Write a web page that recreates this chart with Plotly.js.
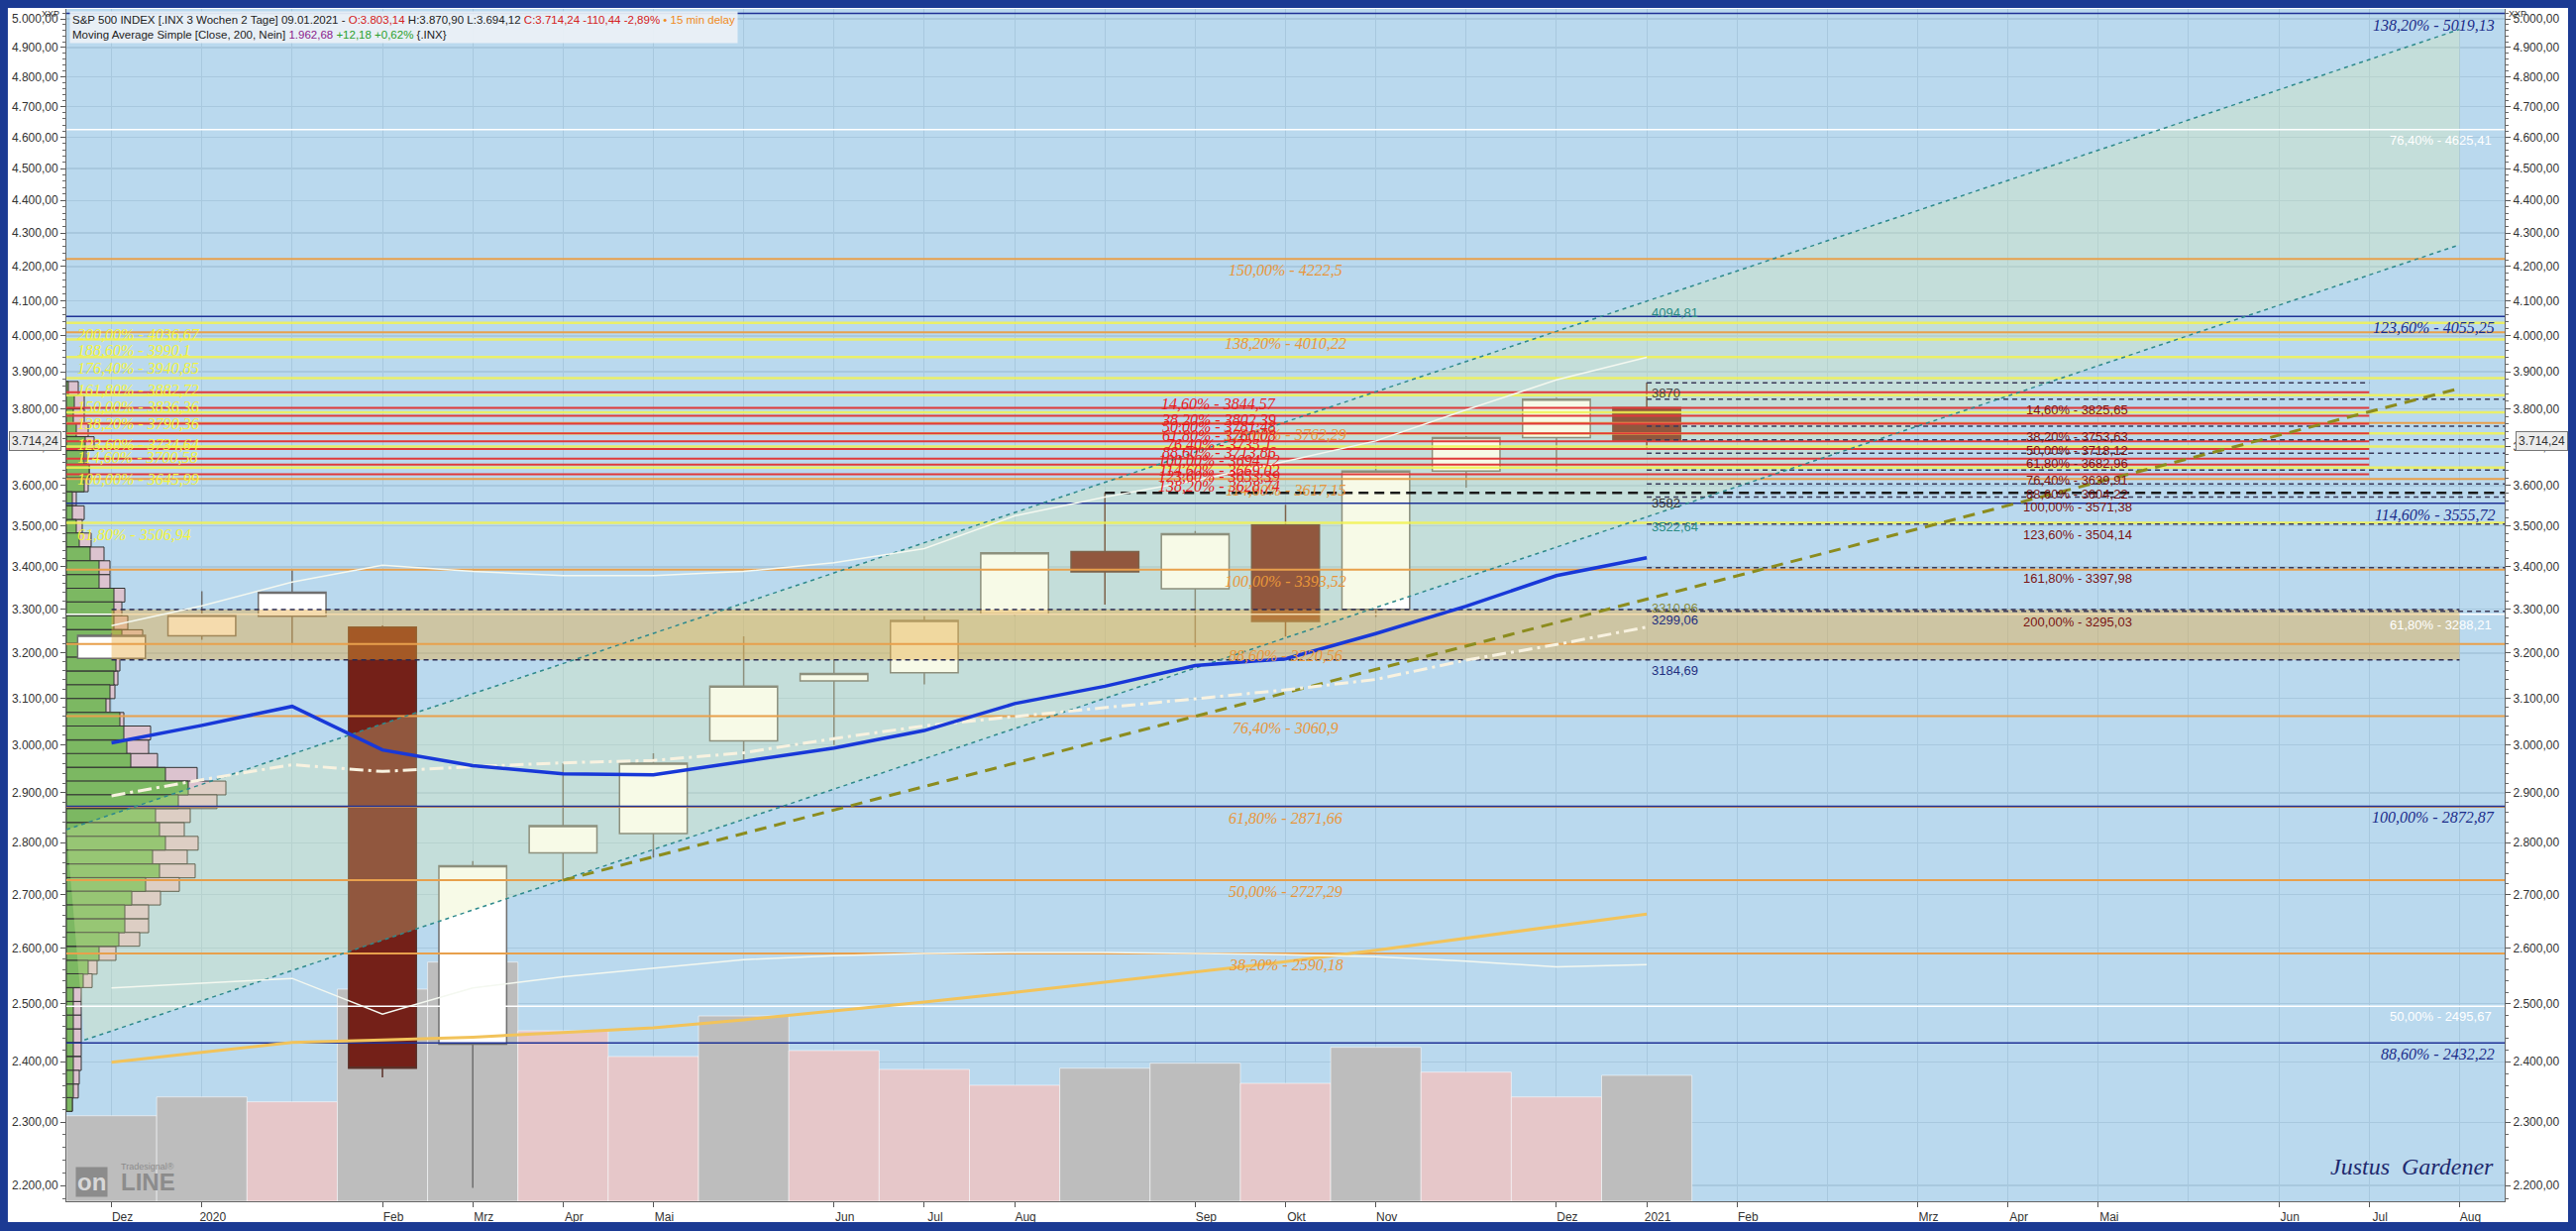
<!DOCTYPE html>
<html><head><meta charset="utf-8">
<script src="https://cdn.plot.ly/plotly-3.0.1.min.js"></script>
<style>html,body{margin:0;padding:0;background:#fff;}#chart{width:2600px;height:1242px;}</style>
</head><body><div id="chart"></div>
<script>
// ---------------- DATA ----------------
const barIdx = [0,1,2,3,4,5,6,7,8,9,10,11,12,13,14,15,16,17];
const openP  = [3188,3239,3284,3259,2430,2780,2818,3008,3138,3156,3289,3437,3348,3502,3300,3637,3724,3803.14];
const highP  = [3245,3342,3395,3262,2764,2961,2982,3238,3185,3284,3436,3582,3487,3552,3650,3728,3830,3870.90];
const lowP   = [3185,3230,3219,2374,2196,2726,2771,2967,2999,3130,3285,3311,3213,3237,3282,3595,3636,3694.12];
const closeP = [3240,3286,3340,2389,2755,2834,2961,3126,3154,3274,3434,3388,3480,3272,3637,3724,3826,3714.24];
const volume = [7.17,8.75,8.34,17.79,20.06,14.3,12.14,15.54,12.64,11.06,9.73,11.16,11.58,9.89,12.91,10.83,8.75,10.56];

const maBlue     = [3004,3041,3082,2989,2956,2939,2937,2965,2993,3030,3088,3126,3172,3187,3244,3307,3379,3422];
const maGold     = [2399,2416,2433,2437,2442,2450,2458,2472,2487,2503,2520,2538,2556,2575,2596,2618,2640,2663];
const bandUpperW = [3262,3308,3364,3404,3389,3379,3379,3389,3410,3444,3524,3571,3613,3662,3715,3797,3878,3940];
const bandLowerW = [2528,2536,2545,2482,2528,2548,2563,2579,2586,2590,2592,2592,2590,2588,2584,2576,2566,2570];
const dashDotLine= [2894,2927,2958,2944,2954,2962,2967,2983,3013,3040,3060,3079,3098,3118,3141,3184,3219,3259];

// volume profile (price rows, up-volume, total volume)
const profilePrice = [3855,3818,3781,3744,3708,3672,3637,3602,3567,3532,3498,3465,3431,3398,3365,3333,3301,3269,3237,3206,3175,3144,3114,3084,3054,3025,2995,2967,2938,2910,2882,2854,2826,2799,2772,2745,2719,2693,2667,2641,2616,2590,2565,2541,2516,2492,2468,2444,2421,2397,2374,2351,2329];
const profileUp    = [2,8,7,10,19,18,23,18,6,6,10,13,24,33,33,48,48,48,56,60,50,48,44,40,54,58,61,65,100,123,113,90,94,100,87,94,80,66,59,59,53,33,22,17,7,7,7,7,7,7,7,7,6];
const profileTotal = [12,18,18,22,28,20,23,22,10,18,16,25,38,44,44,59,56,62,77,72,54,52,49,44,58,85,83,92,132,161,152,125,119,133,122,130,114,95,83,83,74,50,31,26,15,15,15,15,15,15,13,12,6];

// Fibonacci level sets
const navyLevels  = [5019.13,4055.25,3555.72,2872.87,2432.22];
const navyLabels  = ["138,20% - 5019,13","123,60% - 4055,25","114,60% - 3555,72","100,00% - 2872,87","88,60% - 2432,22"];
const orangeLevels= [4222.5,4010.22,3762.29,3617.15,3393.52,3220.56,3060.9,2871.66,2727.29,2590.18];
const orangeLabels= ["150,00% - 4222,5","138,20% - 4010,22","123,60% - 3762,29","114,60% - 3617,15","100,00% - 3393,52","88,60% - 3220,56","76,40% - 3060,9","61,80% - 2871,66","50,00% - 2727,29","38,20% - 2590,18"];
const yellowLevels= [4036.67,3990.1,3940.85,3882.72,3836.36,3790.36,3734.64,3700.58,3645.99,3506.94];
const yellowLabels= ["200,00% - 4036,67","188,60% - 3990,1","176,40% - 3940,85","161,80% - 3882,72","150,00% - 3836,36","138,20% - 3790,36","123,60% - 3734,64","114,60% - 3700,58","100,00% - 3645,99","61,80% - 3506,94"];
const redLevels   = [3844.57,3802.39,3781.48,3760.08,3735.1,3713.86,3694.12,3669.02,3653.39,3628.74];
const redLabels   = ["14,60% - 3844,57","38,20% - 3802,39","50,00% - 3781,48","61,80% - 3760,08","76,40% - 3735,1","88,60% - 3713,86","100,00% - 3694,12","114,60% - 3669,02","123,60% - 3653,39","138,20% - 3628,74"];
const darkLevels  = [3825.65,3753.63,3718.12,3682.96,3639.91,3604.22,3571.38,3504.14,3397.98,3295.03];
const darkLabels  = ["14,60% - 3825,65","38,20% - 3753,63","50,00% - 3718,12","61,80% - 3682,96","76,40% - 3639,91","88,60% - 3604,22","100,00% - 3571,38","123,60% - 3504,14","161,80% - 3397,98","200,00% - 3295,03"];
const whiteLevels = [4625.41,3288.21,2495.67];
const whiteLabels = ["76,40% - 4625,41","61,80% - 3288,21","50,00% - 2495,67"];
const swingHigh = 3870, keyLevel = 3582;
const bandLow = 3184.69, bandHigh = 3299.06;
const channelUpperX = [-0.5, 26], channelUpperY = [2826, 4963];
const channelLowerX = [-0.3, 26], channelLowerY = [2437, 4265];
const trendX = [5, 26], trendY = [2727, 3855];
const pointLabels = [
  {v:4094.81, t:"4094,81", c:"#2B8C84", s:10},
  {v:3870,    t:"3870",    c:"#444444", s:10},
  {v:3582,    t:"3582",    c:"#333333", s:10},
  {v:3522.64, t:"3522,64", c:"#2B8C84", s:10},
  {v:3310.96, t:"3310,96", c:"#8C8C3C", s:4},
  {v:3299.06, t:"3299,06", c:"#1F2F7F", s:10},
  {v:3184.69, t:"3184,69", c:"#1F2F7F", s:11}
];
const lastPrice = 3714.24;

const xTickVals = [0,1,3,4,5,6,8,9,10,12,13,14,16,17,18,20,21,22,24,25,26];
const xTickText = ["Dez","2020","Feb","Mrz","Apr","Mai","Jun","Jul","Aug","Sep","Okt","Nov","Dez","2021","Feb","Mrz","Apr","Mai","Jun","Jul","Aug"];
const yTickVals = [2200,2300,2400,2500,2600,2700,2800,2900,3000,3100,3200,3300,3400,3500,3600,3700,3800,3900,4000,4100,4200,4300,4400,4500,4600,4700,4800,4900,5000];

// ---------------- STYLE ----------------
const Y_LO = 2175.6, Y_HI = 5035;
const X_L = -0.5, X_R = 26.5;
const PX_PER_BAR = 91.15;
const SERIF = "'Liberation Serif','Times New Roman',serif";
const NARROW = "'Liberation Sans Narrow','Arial Narrow','Liberation Sans',Arial,sans-serif";
const SANS = "'Liberation Sans',Arial,sans-serif";
const GRID = '#A8C8DE';
const lg = Math.log10;
const fmtDE = n => { const p = n.toFixed(2).split('.'); return p[0].replace(/\B(?=(\d{3})+(?!\d))/g,'.') + ',' + p[1]; };

const minorY = [];
for (let v = 2180; v <= 5020; v += 20) if (v % 100 !== 0) minorY.push(v);

function levelTrace(levels, x0, x1, color, width, dash) {
  const x = [], y = [];
  levels.forEach(v => { x.push(x0, x1, null); y.push(v, v, null); });
  return {type:'scatter', mode:'lines', xaxis:'x', yaxis:'y3', x, y,
          line:{color, width, dash: dash || 'solid'}, hoverinfo:'skip', connectgaps:false};
}
function lineTrace(x, y, color, width, dash) {
  return {type:'scatter', mode:'lines', xaxis:'x', yaxis:'y3', x, y,
          line:{color, width, dash: dash || 'solid'}, hoverinfo:'skip'};
}

const volColors = volume.map((v,i) => (i === 0 || v >= volume[i-1]) ? '#BDBDBD' : '#E6C7C9');

const traces = [
  {type:'bar', x:barIdx, y:volume, xaxis:'x', yaxis:'y', width:1,
   marker:{color:volColors, line:{color:'rgba(255,255,255,0.55)', width:1}}, hoverinfo:'skip'},
  {type:'bar', orientation:'h', xaxis:'x', yaxis:'y2', y:profilePrice.map(lg),
   x:profileTotal.map(v => v / PX_PER_BAR), base:X_L, width:0.00421,
   marker:{color:'#DCC3CF', line:{color:'#333333', width:1}}, hoverinfo:'skip'},
  {type:'bar', orientation:'h', xaxis:'x', yaxis:'y2', y:profilePrice.map(lg),
   x:profileUp.map(v => v / PX_PER_BAR), base:X_L, width:0.00421,
   marker:{color:'#7CB862', line:{color:'#333333', width:1}}, hoverinfo:'skip'},
  {type:'candlestick', xaxis:'x', yaxis:'y3', x:barIdx, open:openP, high:highP, low:lowP, close:closeP,
   increasing:{line:{color:'#6E6E6E', width:1.5}, fillcolor:'#FFFFFF'},
   decreasing:{line:{color:'#5A3028', width:1.5}, fillcolor:'#742018'},
   whiskerwidth:0, hoverinfo:'skip'},
  {type:'scatter', mode:'lines', xaxis:'x', yaxis:'y3',
   x:[channelUpperX[0], channelUpperX[1], channelLowerX[1], channelLowerX[0]],
   y:[channelUpperY[0], channelUpperY[1], channelLowerY[1], channelLowerY[0]],
   fill:'toself', fillcolor:'rgba(225,238,165,0.27)', line:{width:0}, hoverinfo:'skip'},
  levelTrace(whiteLevels, X_L, X_R, '#FFFFFF', 1.5),
  {type:'scatter', mode:'lines', xaxis:'x', yaxis:'y3',
   x:[0, 26, 26, 0], y:[bandLow, bandLow, bandHigh, bandHigh],
   fill:'toself', fillcolor:'rgba(230,170,60,0.42)', line:{width:0}, hoverinfo:'skip'},
  levelTrace([bandHigh, bandLow], 0, 26, '#2A2A50', 1.5, '5px,4px'),
  levelTrace(orangeLevels, X_L, X_R, '#E8A04C', 2),
  levelTrace(yellowLevels, X_L, X_R, 'rgba(242,242,80,0.85)', 2.5),
  levelTrace(redLevels, X_L, 25, '#E03A3A', 2),
  levelTrace(navyLevels, X_L, X_R, '#1F3296', 1.5),
  levelTrace(darkLevels, 17, X_R, '#3A3A58', 1.5, '5px,4px'),
  levelTrace([swingHigh], 17, 25, '#3A3A58', 1.5, '5px,4px'),
  levelTrace([keyLevel], 11, X_R, '#1A1A1A', 2.5, '10px,6px'),
  lineTrace(channelUpperX, channelUpperY, '#2E8A8C', 1.5, '4px,4px'),
  lineTrace(channelLowerX, channelLowerY, '#2E8A8C', 1.5, '4px,4px'),
  lineTrace(trendX, trendY, '#8C8C1E', 3, '12px,8px'),
  lineTrace(barIdx, maGold, '#F2C35A', 3),
  lineTrace(barIdx, bandUpperW, '#F4F8F0', 1.5),
  lineTrace(barIdx, bandLowerW, '#F4F8F0', 1.5),
  lineTrace(barIdx, dashDotLine, '#F8F2E0', 3, '14px,5px,3px,5px'),
  lineTrace(barIdx, maBlue, '#1838D8', 3.5),
  {type:'scatter', mode:'markers', xaxis:'x', yaxis:'y4', x:[0], y:[3000], marker:{opacity:0}, hoverinfo:'skip'}
];

// ---------------- ANNOTATIONS ----------------
const ann = [];
function addLabels(levels, texts, base) {
  levels.forEach((v, i) => ann.push(Object.assign({
    yref:'y3', y:lg(v), text:texts[i], showarrow:false, yanchor:'top', yshift:-1
  }, JSON.parse(JSON.stringify(base)))));
}
addLabels(navyLevels, navyLabels.map(t => '<i>' + t + '</i>'),
  {xref:'paper', x:0.9968, xanchor:'right', font:{family:SERIF, size:16, color:'#1B2C8A'}});
addLabels(orangeLevels, orangeLabels.map(t => '<i>' + t + '</i>'),
  {xref:'x', x:13, xanchor:'center', font:{family:SERIF, size:16, color:'#E8963A'}});
addLabels(yellowLevels, yellowLabels.map(t => '<i>' + t + '</i>'),
  {xref:'paper', x:0.0037, xanchor:'left', font:{family:SERIF, size:16, color:'#F4F43C'}});
addLabels(redLevels, redLabels.map(t => '<i>' + t + '</i>'),
  {xref:'x', x:12.26, xanchor:'center', font:{family:SERIF, size:16, color:'#E81C1C'}});
addLabels(darkLevels, darkLabels,
  {xref:'x', x:21.77, xanchor:'center', font:{family:NARROW, size:13, color:'#7A1414'}});
addLabels(whiteLevels, whiteLabels,
  {xref:'paper', x:0.9955, xanchor:'right', font:{family:NARROW, size:13, color:'#FFFFFF'}});
pointLabels.forEach(p => ann.push({xref:'x', x:17.03, xanchor:'left', yref:'y3', y:lg(p.v),
  yanchor:'middle', yshift:-p.s, text:p.t, showarrow:false, font:{family:NARROW, size:13, color:p.c}}));

ann.push({xref:'paper', yref:'paper', x:0.0012, y:0.9983, xanchor:'left', yanchor:'top', align:'left',
  showarrow:false, bgcolor:'rgba(236,241,246,0.92)', borderpad:2,
  font:{family:SANS, size:11.5, color:'#222222'},
  text:"S&amp;P 500 INDEX [.INX 3 Wochen 2 Tage] 09.01.2021 - <span style='color:#D42020'>O:3.803,14</span> H:3.870,90 L:3.694,12 <span style='color:#D42020'>C:3.714,24 -110,44 -2,89%</span> <span style='color:#F08A20'>• 15 min delay</span><br>Moving Average Simple [Close, 200, Nein] <span style='color:#8B1A8B'>1.962,68</span> <span style='color:#2AA02A'>+12,18 +0,62%</span> {.INX}"});
ann.push({xref:'paper', yref:'paper', x:-0.0025, y:1.0006, xanchor:'right', yanchor:'top', showarrow:false,
  borderpad:0, text:'XXP', font:{family:NARROW, size:9, color:'#333'}});
ann.push({xref:'paper', yref:'paper', x:1.0012, y:1.0006, xanchor:'left', yanchor:'top', showarrow:false,
  borderpad:0, text:'XXP', font:{family:NARROW, size:9, color:'#333'}});
ann.push({xref:'paper', x:-0.013, yref:'y3', y:lg(lastPrice), xanchor:'center', yanchor:'middle', showarrow:false,
  text:fmtDE(lastPrice), bgcolor:'#ECECEC', bordercolor:'#777', borderwidth:1, borderpad:2,
  font:{family:NARROW, size:12, color:'#333'}});
ann.push({xref:'paper', x:1.0152, yref:'y3', y:lg(lastPrice), xanchor:'center', yanchor:'middle', showarrow:false,
  text:fmtDE(lastPrice), bgcolor:'#ECECEC', bordercolor:'#777', borderwidth:1, borderpad:2,
  font:{family:NARROW, size:12, color:'#333'}});
ann.push({xref:'paper', yref:'paper', x:0.9963, y:0.0291, xanchor:'right', yanchor:'middle', showarrow:false,
  text:'<i>Justus  Gardener</i>', font:{family:SERIF, size:24, color:'#1E2A6E'}});
ann.push({xref:'paper', yref:'paper', x:0.0037, y:0.0166, xanchor:'left', yanchor:'middle', showarrow:false,
  text:'<b>on</b>', bgcolor:'#8C8C8C', borderpad:1, font:{family:SANS, size:24, color:'#D8D8D8'}});
ann.push({xref:'paper', yref:'paper', x:0.0215, y:0.0166, xanchor:'left', yanchor:'middle', showarrow:false,
  text:'<b>LINE</b>', font:{family:SANS, size:24, color:'#8C8C8C'}});
ann.push({xref:'paper', yref:'paper', x:0.0215, y:0.0295, xanchor:'left', yanchor:'middle', showarrow:false,
  text:'Tradesignal®', font:{family:SANS, size:9, color:'#8C8C8C'}});

const NAVY = '#1B3A93';
const shapes = [
  {type:'rect', xref:'paper', yref:'paper', x0:-0.05, x1:1.05, y0:1.0008, y1:1.05, fillcolor:NAVY, line:{width:0}, layer:'above'},
  {type:'rect', xref:'paper', yref:'paper', x0:-0.05, x1:1.05, y0:-0.05, y1:-0.0175, fillcolor:NAVY, line:{width:0}, layer:'above'},
  {type:'rect', xref:'paper', yref:'paper', x0:-0.05, x1:-0.0240, y0:-0.05, y1:1.05, fillcolor:NAVY, line:{width:0}, layer:'above'},
  {type:'rect', xref:'paper', yref:'paper', x0:1.0260, x1:1.05, y0:-0.05, y1:1.05, fillcolor:NAVY, line:{width:0}, layer:'above'}
];

const yRange = [lg(Y_LO), lg(Y_HI)];
const tickFont = {family:NARROW, size:12, color:'#333333'};
const layout = {
  width:2600, height:1242, margin:{l:67, r:72, t:9, b:30, pad:0},
  paper_bgcolor:'#FFFFFF', plot_bgcolor:'#BAD9EE', showlegend:false,
  barmode:'overlay', bargap:0, boxgap:0.25, boxgroupgap:0,
  xaxis:{range:[X_L, X_R], tickmode:'array', tickvals:xTickVals, ticktext:xTickText,
    ticks:'outside', ticklen:5, tickcolor:'#555', showgrid:true, gridcolor:GRID, gridwidth:1,
    showline:true, linecolor:'#666', zeroline:false, tickfont:tickFont, fixedrange:true,
    ticklabelshift:11, rangeslider:{visible:false},
    minor:{tickmode:'linear', tick0:0, dtick:1, showgrid:true, gridcolor:GRID, gridwidth:1, ticks:''}},
  yaxis:{range:[0,100], visible:false, fixedrange:true},
  yaxis2:{overlaying:'y', range:yRange, visible:false, fixedrange:true},
  yaxis3:{overlaying:'y', type:'log', range:yRange, side:'left', anchor:'x',
    tickmode:'array', tickvals:yTickVals, ticktext:yTickVals.map(fmtDE),
    ticks:'outside', ticklen:5, tickcolor:'#555', showgrid:true, gridcolor:GRID, gridwidth:1.5,
    showline:true, linecolor:'#666', zeroline:false, tickfont:tickFont, fixedrange:true,
    minor:{tickmode:'array', tickvals:minorY, ticks:'outside', ticklen:3, tickcolor:'#666', showgrid:false}},
  yaxis4:{overlaying:'y', type:'log', range:yRange, side:'right', anchor:'x',
    tickmode:'array', tickvals:yTickVals, ticktext:yTickVals.map(fmtDE),
    ticks:'outside', ticklen:5, tickcolor:'#555', showgrid:false,
    showline:true, linecolor:'#666', zeroline:false, tickfont:tickFont, fixedrange:true,
    minor:{tickmode:'array', tickvals:minorY, ticks:'outside', ticklen:3, tickcolor:'#666', showgrid:false}},
  shapes:shapes, annotations:ann
};

Plotly.newPlot('chart', traces, layout, {displayModeBar:false, staticPlot:true});
</script></body></html>
